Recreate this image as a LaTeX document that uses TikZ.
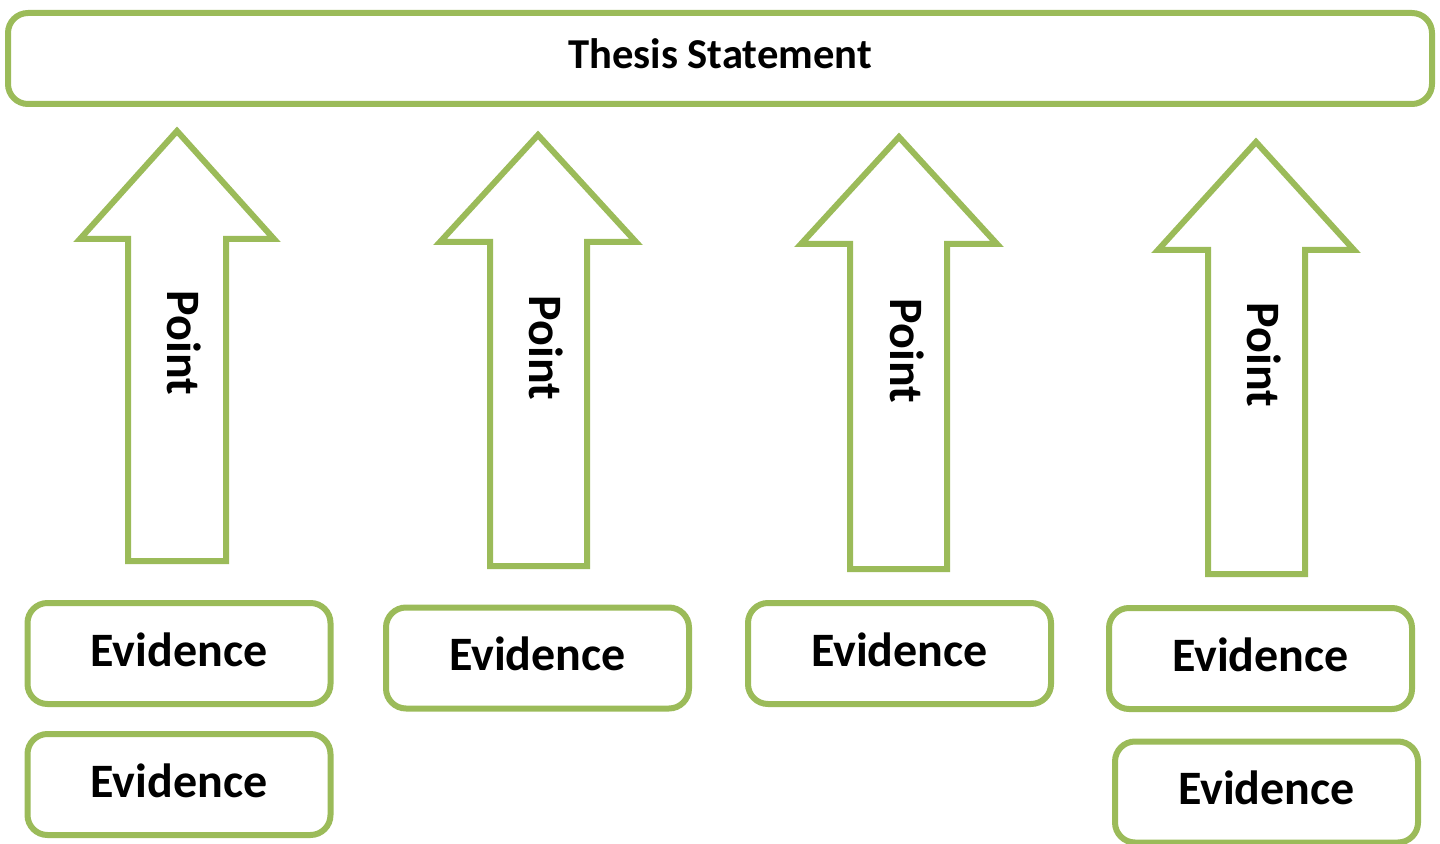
\documentclass[tikz,border=0pt]{standalone}
\usepackage{fontspec}
\setmainfont{Carlito}
\definecolor{leaf}{HTML}{9BBB59}
\begin{document}
\begin{tikzpicture}[x=0.5pt,y=-0.5pt,
  box/.style={draw=leaf,line width=3pt,rounded corners=10pt,fill=white,inner sep=0pt},
  ebox/.style={box,minimum width=151.5pt,minimum height=50.5pt,text height=17pt,text depth=4.5pt,font=\fontsize{24}{28}\selectfont\bfseries},
  arrowshape/.style={draw=leaf,line width=3pt,fill=white,line join=miter},
  ptlabel/.style={rotate=-90,font=\fontsize{24}{28}\selectfont\bfseries,inner sep=0pt}]
\useasboundingbox (0,0) rectangle (1440,844);
% thesis
\node[box,minimum width=712pt,minimum height=45.5pt,text height=15pt,text depth=5pt,font=\fontsize{21.3}{25}\selectfont\bfseries] (thesis) at (720,58.5) {Thesis Statement};
% arrows
\draw[arrowshape] (177,131) -- (274,239) -- (226,239) -- (226,561) -- (128,561) -- (128,239) -- (80,239) -- cycle;
\draw[arrowshape] (538,135) -- (636,242) -- (587,242) -- (587,566) -- (490,566) -- (490,242) -- (440,242) -- cycle;
\draw[arrowshape] (899,137) -- (997,244) -- (947,244) -- (947,569) -- (850,569) -- (850,244) -- (801,244) -- cycle;
\draw[arrowshape] (1256,142) -- (1354,250) -- (1305,250) -- (1305,574) -- (1208,574) -- (1208,250) -- (1158,250) -- cycle;
\node[ptlabel] (p1) at (184,343) {Point};
\node[ptlabel] (p2) at (546,348) {Point};
\node[ptlabel] (p3) at (907,351) {Point};
\node[ptlabel] (p4) at (1264,355) {Point};
% evidence
\node[ebox] (e1) at (179,653.5) {Evidence};
\node[ebox] (e2) at (179,784.5) {Evidence};
\node[ebox] (e3) at (537.5,658) {Evidence};
\node[ebox] (e4) at (899.5,653.5) {Evidence};
\node[ebox] (e5) at (1260.5,658.5) {Evidence};
\node[ebox] (e6) at (1266.5,792) {Evidence};
\end{tikzpicture}
\end{document}
